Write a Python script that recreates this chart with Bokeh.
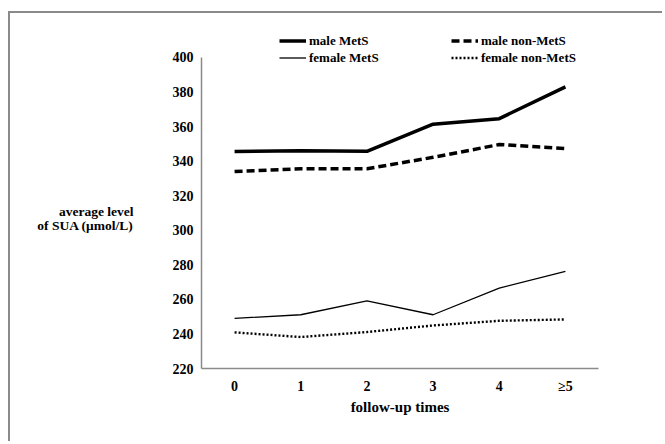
from bokeh.plotting import figure
from bokeh.models import FactorRange, Range1d, FixedTicker, Legend, LegendItem
from bokeh.embed import file_html
from bokeh.resources import INLINE

categories = ["0", "1", "2", "3", "4", "\u22655"]
male_mets = [345.6, 346.0, 345.7, 361.4, 364.6, 383.0]
male_non_mets = [334.0, 335.6, 335.6, 342.2, 349.6, 347.3]
female_mets = [249.0, 251.1, 259.2, 251.1, 266.5, 276.2]
female_non_mets = [240.9, 238.2, 241.1, 244.9, 247.6, 248.4]
y_ticks = [220, 240, 260, 280, 300, 320, 340, 360, 380, 400]

FONT = "Liberation Serif"

p = figure(width=654, height=430, output_backend="svg", toolbar_location=None,
           x_range=FactorRange(*categories, range_padding=0),
           y_range=Range1d(220, 418.5),
           min_border_left=191, min_border_top=12, min_border_right=66, min_border_bottom=75)
p.styles = {"border-top": "2px solid #8a8a8a", "border-left": "2px solid #8a8a8a",
            "margin-top": "11px", "margin-left": "8px"}
p.outline_line_color = None
p.grid.visible = False
p.background_fill_color = "white"

r1 = p.line(categories, male_mets, line_color="black", line_width=3.5)
r2 = p.line(categories, male_non_mets, line_color="black", line_width=3.5, line_dash="8 4")
r3 = p.line(categories, female_mets, line_color="black", line_width=1.3)
r4 = p.line(categories, female_non_mets, line_color="black", line_width=2.4, line_dash="2 2")

for ax in (p.xaxis[0], p.yaxis[0]):
    ax.axis_line_color = "#8a8a8a"
    ax.axis_line_width = 1.5
    ax.major_tick_line_color = None
    ax.minor_tick_line_color = None
    ax.major_tick_out = 0
    ax.major_tick_in = 0
    ax.minor_tick_out = 0
    ax.minor_tick_in = 0
    ax.major_label_text_font = FONT
    ax.major_label_text_font_style = "bold"
    ax.major_label_text_font_size = "14px"
    ax.major_label_text_color = "black"

p.yaxis[0].ticker = FixedTicker(ticks=y_ticks)
p.yaxis[0].bounds = (220, 400)
p.yaxis[0].major_label_standoff = 8
p.yaxis[0].axis_label = "\n\n\naverage level\nof SUA (\u03bcmol/L)"
p.yaxis[0].axis_label_orientation = "horizontal"
p.yaxis[0].axis_label_text_align = "center"
p.yaxis[0].axis_label_standoff = 36
p.yaxis[0].axis_label_text_font = FONT
p.yaxis[0].axis_label_text_font_style = "bold"
p.yaxis[0].axis_label_text_font_size = "13.5px"
p.yaxis[0].axis_label_text_line_height = 0.95
p.yaxis[0].axis_label_text_color = "black"

p.xaxis[0].major_label_standoff = 10
p.xaxis[0].axis_label = "follow-up times"
p.xaxis[0].axis_label_text_font = FONT
p.xaxis[0].axis_label_text_font_style = "bold"
p.xaxis[0].axis_label_text_font_size = "15px"
p.xaxis[0].axis_label_text_color = "black"
p.xaxis[0].axis_label_standoff = 2

legend = Legend(items=[
    LegendItem(label="male MetS", renderers=[r1]),
    LegendItem(label="female MetS", renderers=[r3]),
    LegendItem(label="male non-MetS", renderers=[r2]),
    LegendItem(label="female non-MetS", renderers=[r4]),
], ncols=2, location=(78, 302), glyph_width=27, glyph_height=17, label_height=17,
    label_width=142, label_standoff=3, spacing=0, padding=0, margin=0,
    border_line_color=None, background_fill_alpha=0,
    label_text_font=FONT, label_text_font_style="bold", label_text_font_size="13px",
    label_text_color="black")
p.add_layout(legend)

open("out.html", "w").write(file_html(p, INLINE))
